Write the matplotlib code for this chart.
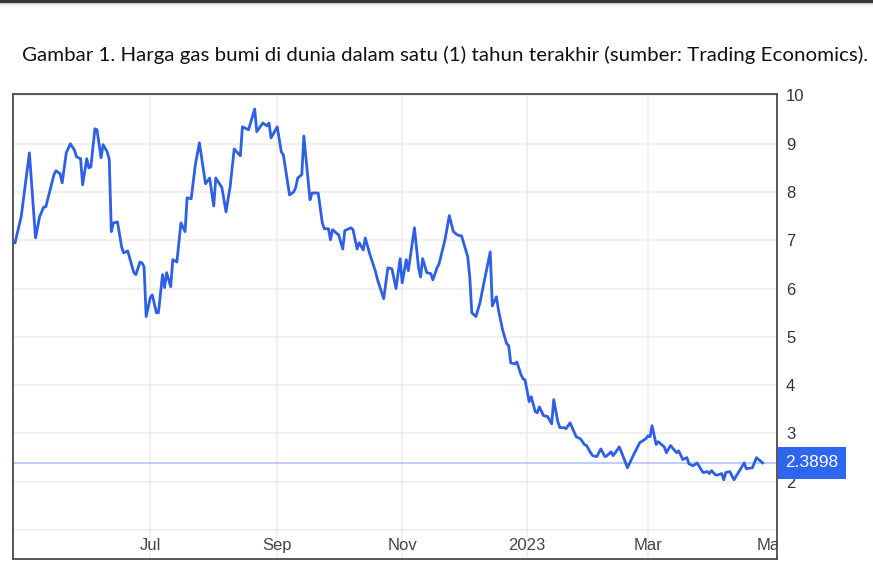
import matplotlib

matplotlib.use("Agg")
import matplotlib.pyplot as plt
import numpy as np
import pandas as pd
from matplotlib.patches import Rectangle

CAPTION = ("Gambar 1. Harga gas bumi di dunia dalam satu (1) tahun terakhir "
           "(sumber: Trading Economics).")

# natural gas price
DATES = [
    "2022-04-26", "2022-04-29", "2022-05-03", "2022-05-06", "2022-05-08", "2022-05-10",
    "2022-05-11", "2022-05-15", "2022-05-16", "2022-05-18", "2022-05-19", "2022-05-21",
    "2022-05-23", "2022-05-25", "2022-05-26", "2022-05-28", "2022-05-29", "2022-05-31",
    "2022-06-01", "2022-06-02", "2022-06-04", "2022-06-05", "2022-06-07", "2022-06-08",
    "2022-06-10", "2022-06-11", "2022-06-12", "2022-06-13", "2022-06-15", "2022-06-17",
    "2022-06-18", "2022-06-20", "2022-06-23", "2022-06-24", "2022-06-26", "2022-06-27",
    "2022-06-28", "2022-06-29", "2022-07-01", "2022-07-02", "2022-07-04", "2022-07-05",
    "2022-07-07", "2022-07-08", "2022-07-09", "2022-07-11", "2022-07-12", "2022-07-14",
    "2022-07-16", "2022-07-18", "2022-07-19", "2022-07-21", "2022-07-23", "2022-07-25",
    "2022-07-28", "2022-07-30", "2022-08-01", "2022-08-02", "2022-08-05", "2022-08-07",
    "2022-08-09", "2022-08-11", "2022-08-14", "2022-08-15", "2022-08-18", "2022-08-21",
    "2022-08-22", "2022-08-25", "2022-08-27", "2022-08-28", "2022-08-29", "2022-09-01",
    "2022-09-03", "2022-09-04", "2022-09-07", "2022-09-09", "2022-09-10", "2022-09-11",
    "2022-09-13", "2022-09-14", "2022-09-17", "2022-09-18", "2022-09-21", "2022-09-23",
    "2022-09-24", "2022-09-26", "2022-09-27", "2022-09-28", "2022-10-01", "2022-10-03",
    "2022-10-04", "2022-10-07", "2022-10-08", "2022-10-10", "2022-10-11", "2022-10-13",
    "2022-10-14", "2022-10-16", "2022-10-19", "2022-10-20", "2022-10-23", "2022-10-25",
    "2022-10-27", "2022-10-29", "2022-10-31", "2022-11-01", "2022-11-03", "2022-11-04",
    "2022-11-07", "2022-11-09", "2022-11-10", "2022-11-11", "2022-11-13", "2022-11-15",
    "2022-11-16", "2022-11-18", "2022-11-19", "2022-11-22", "2022-11-24", "2022-11-26",
    "2022-11-28", "2022-11-30", "2022-12-01", "2022-12-03", "2022-12-04", "2022-12-05",
    "2022-12-07", "2022-12-09", "2022-12-11", "2022-12-14", "2022-12-15", "2022-12-17",
    "2022-12-18", "2022-12-20", "2022-12-22", "2022-12-23", "2022-12-24", "2022-12-26",
    "2022-12-27", "2022-12-29", "2022-12-30", "2022-12-31", "2023-01-02", "2023-01-03",
    "2023-01-05", "2023-01-06", "2023-01-07", "2023-01-09", "2023-01-11", "2023-01-13",
    "2023-01-14", "2023-01-16", "2023-01-17", "2023-01-19", "2023-01-20", "2023-01-22",
    "2023-01-23", "2023-01-25", "2023-01-27", "2023-01-29", "2023-01-30", "2023-02-01",
    "2023-02-02", "2023-02-04", "2023-02-06", "2023-02-08", "2023-02-09", "2023-02-11",
    "2023-02-12", "2023-02-15", "2023-02-16", "2023-02-19", "2023-02-22", "2023-02-25",
    "2023-02-28", "2023-03-01", "2023-03-02", "2023-03-03", "2023-03-05", "2023-03-06",
    "2023-03-09", "2023-03-10", "2023-03-12", "2023-03-13", "2023-03-15", "2023-03-16",
    "2023-03-18", "2023-03-20", "2023-03-21", "2023-03-23", "2023-03-25", "2023-03-27",
    "2023-03-28", "2023-03-30", "2023-03-31", "2023-04-01", "2023-04-03", "2023-04-04",
    "2023-04-06", "2023-04-07", "2023-04-08", "2023-04-10", "2023-04-12", "2023-04-15",
    "2023-04-17", "2023-04-18", "2023-04-21", "2023-04-23", "2023-04-24", "2023-04-26",
]
PRICES = [
    6.95, 7.49, 8.81, 7.05, 7.49, 7.69,
    7.69, 8.36, 8.44, 8.38, 8.19, 8.81,
    9.00, 8.87, 8.73, 8.69, 8.15, 8.69,
    8.50, 8.52, 9.31, 9.29, 8.71, 8.98,
    8.83, 8.67, 7.18, 7.36, 7.38, 6.87,
    6.74, 6.78, 6.33, 6.29, 6.55, 6.53,
    6.45, 5.42, 5.81, 5.87, 5.50, 5.50,
    6.29, 6.02, 6.33, 6.04, 6.60, 6.55,
    7.36, 7.18, 7.88, 7.86, 8.56, 9.02,
    8.17, 8.29, 7.71, 8.29, 8.09, 7.59,
    8.11, 8.89, 8.75, 9.35, 9.29, 9.72,
    9.25, 9.43, 9.37, 9.43, 9.12, 9.35,
    8.83, 8.77, 7.94, 8.00, 8.09, 8.29,
    8.36, 9.16, 7.84, 7.98, 7.98, 7.36,
    7.24, 7.24, 7.01, 7.22, 7.11, 6.82,
    7.20, 7.26, 7.22, 6.82, 6.95, 6.80,
    7.05, 6.74, 6.35, 6.18, 5.79, 6.43,
    6.41, 6.00, 6.62, 6.12, 6.60, 6.37,
    7.26, 6.43, 6.24, 6.62, 6.33, 6.31,
    6.18, 6.43, 6.51, 7.03, 7.51, 7.18,
    7.11, 7.09, 6.95, 6.66, 6.24, 5.50,
    5.42, 5.71, 6.14, 6.76, 5.64, 5.83,
    5.56, 5.15, 4.86, 4.82, 4.46, 4.44,
    4.48, 4.22, 4.13, 4.11, 3.66, 3.76,
    3.45, 3.43, 3.55, 3.37, 3.35, 3.20,
    3.70, 3.24, 3.12, 3.12, 3.10, 3.22,
    3.12, 2.93, 2.89, 2.77, 2.75, 2.60,
    2.54, 2.52, 2.68, 2.52, 2.54, 2.62,
    2.54, 2.72, 2.62, 2.29, 2.56, 2.81,
    2.89, 2.95, 2.93, 3.16, 2.77, 2.83,
    2.72, 2.60, 2.75, 2.70, 2.60, 2.64,
    2.46, 2.50, 2.37, 2.33, 2.39, 2.25,
    2.19, 2.21, 2.17, 2.23, 2.14, 2.14,
    2.17, 2.04, 2.19, 2.21, 2.04, 2.25,
    2.39, 2.27, 2.29, 2.50, 2.46, 2.3898,
]

LAST_PRICE = 2.3898
MONTH_TICKS = ["2022-07-01", "2022-09-01", "2022-11-01", "2023-01-01", "2023-03-01", "2023-05-01"]
MONTH_LABELS = ["Jul", "Sep", "Nov", "2023", "Mar", "May"]
Y_TICKS = [1, 2, 3, 4, 5, 6, 7, 8, 9, 10]
Y_LABELS = ["", "2", "3", "4", "5", "6", "7", "8", "9", "10"]

LINE_COLOR = "#2d60e6"
BOX_COLOR = "#2f66f0"
W, H = 873, 563

fig = plt.figure(figsize=(W / 100, H / 100), dpi=100)
fig.patch.set_facecolor("white")

# dark strip with soft shadow along the top of the screenshot
bar = fig.add_axes([0, 1 - 10 / H, 1, 10 / H])
shade = np.array([0.2, 0.2, 0.22, 0.82, 0.9, 0.95, 0.97, 0.99, 1.0, 1.0])[:, None]
bar.imshow(shade, cmap="gray", vmin=0, vmax=1, aspect="auto", interpolation="nearest")
bar.set_axis_off()

cap = fig.text(22 / W, 1 - 55 / H, CAPTION, family="Lato", fontsize=14,
               color="#111111", va="center", ha="left")
fig.canvas.draw()
cap_w = cap.get_window_extent().width
cap.set_fontsize(14 * 847 / cap_w)

ax = fig.add_axes([13 / W, 4 / H, (777 - 13) / W, (559 - 94) / H])
dates = pd.to_datetime(DATES)
ticks = pd.to_datetime(MONTH_TICKS)

ax.axhline(LAST_PRICE, color="#b4c3f5", lw=1.2, zorder=1)
ax.plot(dates, PRICES, color=LINE_COLOR, lw=2.0, zorder=3, solid_joinstyle="round")

ax.set_xlim(pd.Timestamp("2022-04-25"), pd.Timestamp("2023-05-03"))
ax.set_ylim(0.4, 10.03)

ax.set_xticks(ticks[:-1])
ax.set_xticklabels([])
ax.tick_params(axis="x", length=0)
ax.yaxis.tick_right()
ax.set_yticks(Y_TICKS)
ax.set_yticklabels(Y_LABELS)
ax.tick_params(axis="y", length=0, pad=6.5, labelsize=12, labelcolor="#333333")
for lbl in ax.get_yticklabels():
    lbl.set_family("Liberation Sans")

ax.grid(True, color="#ececec", lw=1.1)
ax.set_axisbelow(True)
for sp in ax.spines.values():
    sp.set_color("#4a4a4a")
    sp.set_linewidth(1.3)

for t, lab in zip(ticks, MONTH_LABELS):
    ax.text(t, 0.03, lab, transform=ax.get_xaxis_transform(), ha="center", va="center",
            fontsize=12, color="#444444", family="Liberation Sans", clip_on=True)

# last-value tag on the right axis: a 68 x 32 px box centred on the price
y_pix = ax.transData.transform((0, LAST_PRICE))[1]
x_pix = ax.transAxes.transform((1, 0))[0]
fig.add_artist(Rectangle(((x_pix + 1) / W, (y_pix - 16) / H), 68 / W, 32 / H,
                         transform=fig.transFigure, fc=BOX_COLOR, ec="none", zorder=10))
fig.text((x_pix + 35) / W, y_pix / H, f"{LAST_PRICE:.4f}", ha="center", va="center",
         fontsize=12.5, color="white", family="Liberation Sans", zorder=11)

fig.savefig("out.png", dpi=100)
